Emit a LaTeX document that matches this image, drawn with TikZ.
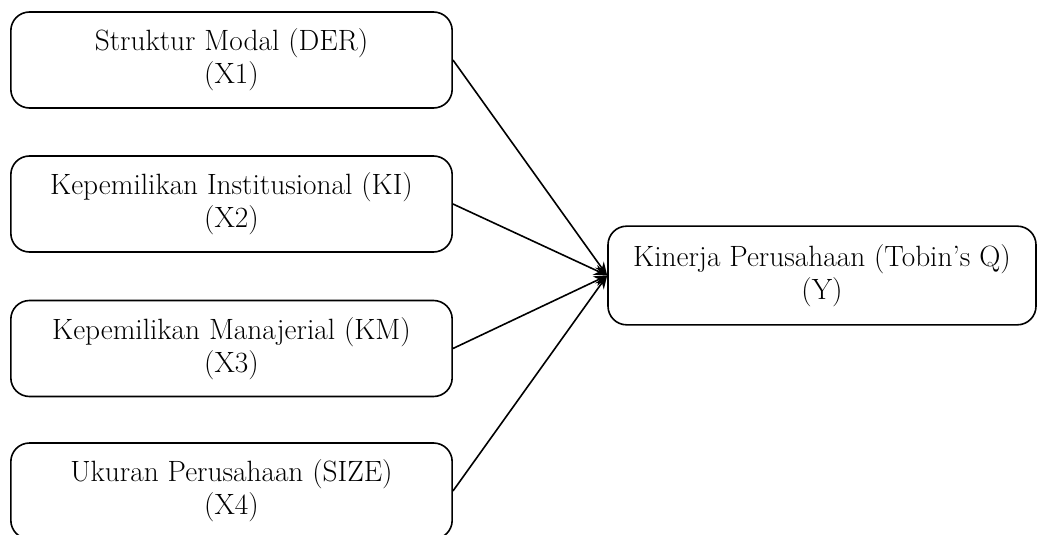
\documentclass[tikz,border=0pt]{standalone}
\usepackage{tikz}
\usetikzlibrary{arrows.meta}

\begin{document}
\begin{tikzpicture}[x=0.75pt,y=-0.75pt]
				\useasboundingbox (0,0) rectangle (1039,535);
				\begin{scope}[every node/.style={draw,very thick,rounded corners=14pt,align=center,
				              minimum height=72pt,font=\fontsize{22}{25}\selectfont}]
				    \node[minimum width=331pt]  (X1) at (231.5,60) {Struktur Modal (DER)\\(X1)};
				    \node[minimum width=331pt]  (X2) at (231.5,204) {Kepemilikan Institusional (KI)\\(X2)};
				    \node[minimum width=331pt]  (X3) at (231.5,348.5) {Kepemilikan Manajerial (KM)\\(X3)};
				    \node[minimum width=331pt]  (X4) at (231.5,491) {Ukuran Perusahaan (SIZE)\\(X4)};
				    \node[minimum width=321pt,minimum height=74pt]  (Y) at (822,275.5) {Kinerja Perusahaan (Tobin's Q)\\(Y)};
				\end{scope}

				\begin{scope}[>={Stealth[black,length=10pt,width=8pt]},
				              every edge/.style={draw=black,very thick}]
				    \path [->] (X1.east) edge (Y.west);
				    \path [->] (X2.east) edge (Y.west);
				    \path [->] (X3.east) edge (Y.west);
				    \path [->] (X4.east) edge (Y.west);
				\end{scope}
				\end{tikzpicture}
\end{document}
